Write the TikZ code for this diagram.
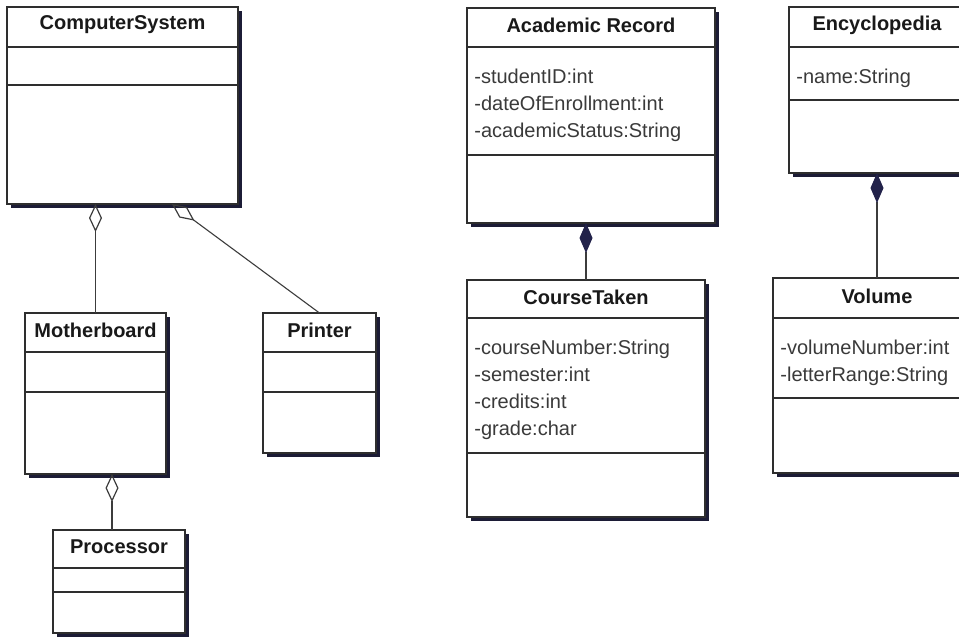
\documentclass[tikz,border=0pt]{standalone}
\usepackage{fontspec}
\setmainfont{Liberation Sans}
\usetikzlibrary{arrows.meta,fit,calc}

\definecolor{framec}{HTML}{2E2E2E}
\definecolor{shadec}{HTML}{1C1C36}
\definecolor{attrc}{HTML}{3A3A3A}
\definecolor{linkc}{HTML}{3C3C3C}
\definecolor{solidc}{HTML}{22224A}

\tikzset{
  classframe/.style={draw=framec, line width=0.8pt, fill=white, inner sep=0pt, outer sep=0pt},
  divider/.style={draw=framec, line width=0.8pt},
  classshadow/.style={fill=shadec},
  classtitle/.style={font=\bfseries\fontsize{10}{12}\selectfont, text=black!90, inner sep=0pt},
  classattr/.style={font=\fontsize{10}{13.5}\selectfont, text=attrc, align=left,
    inner sep=0pt, anchor=north west},
  aggregation/.style={draw=linkc, line width=0.55pt,
    -{Diamond[open, length=14pt, width=6.5pt, line width=0.6pt]}},
  composition/.style={draw=linkc, line width=0.55pt,
    -{Diamond[length=15pt, width=6.5pt, fill=solidc, color=solidc]}},
}

% #1 name, #2 left, #3 top, #4 right, #5 bottom,
% #6 first divider, #7 second divider, #8 class name, #9 attributes
% The strut fixes the first attribute line: its baseline lies 9pt below the node top.
\newcommand\umlclass[9]{%
  \fill[classshadow] (#2+4,#3+4) rectangle (#4+4,#5+4);
  \node[classframe, fit={(#2,#3) (#4,#5)}] (#1) {};
  \draw[divider] (#2,#6) -- (#4,#6) (#2,#7) -- (#4,#7);
  \node[classtitle] (#1-title) at ({(#2+#4)/2},{(#3+#6)/2-2}) {#8};
  \if\relax\detokenize{#9}\relax\else
    \node[classattr] (#1-attrs) at (#2+7,#6+18) {\rule{0pt}{9pt}#9};
  \fi
}

\begin{document}
\begin{tikzpicture}[x=0.5pt, y=-0.5pt]
  \useasboundingbox (0,0) rectangle (959,639);
  \clip (0,0) rectangle (959,639);
  \fill[white] (0,0) rectangle (959,639);

  % computer system and its parts
  \umlclass{cs}{7}{7}{238}{204}{47}{85}{ComputerSystem}{}
  \umlclass{mb}{25}{313}{166}{474}{352}{392}{Motherboard}{}
  \umlclass{pr}{263}{313}{376}{453}{352}{392}{Printer}{}
  \umlclass{pc}{53}{530}{185}{633}{568}{592}{Processor}{}

  % academic record
  \umlclass{ar}{467}{8}{715}{223}{47}{155}{Academic Record}
    {-studentID:int\\-dateOfEnrollment:int\\-academicStatus:String}
  \umlclass{ct}{467}{280}{705}{517}{318}{453}{CourseTaken}
    {-courseNumber:String\\-semester:int\\-credits:int\\-grade:char}

  % encyclopedia
  \umlclass{en}{789}{7}{965}{173}{47}{100}{Encyclopedia}{-name:String}
  \umlclass{vo}{773}{278}{981}{473}{318}{398}{Volume}
    {-volumeNumber:int\\-letterRange:String}

  % aggregations
  \draw[aggregation] (mb.north) -- (mb.north |- cs.south);
  \coordinate (cs-pr) at ($(cs.south west)!0.714!(cs.south east)$);
  \draw[aggregation] (pr.north) -- (cs-pr);
  \coordinate (pc-mb) at ($(pc.north west)!0.447!(pc.north east)$);
  \draw[aggregation] (pc-mb) -- (pc-mb |- mb.south);

  % compositions
  \draw[composition] (ct.north) -- (ct.north |- ar.south);
  \draw[composition] (vo.north) -- (vo.north |- en.south);
\end{tikzpicture}
\end{document}
